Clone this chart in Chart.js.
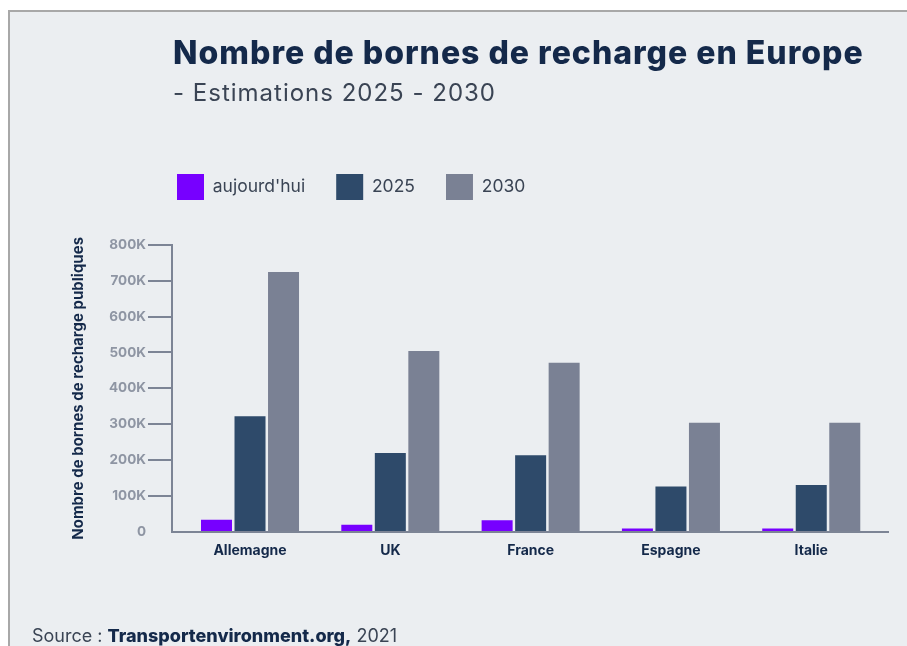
<!DOCTYPE html>
<html><head><meta charset="utf-8">
<script src="https://cdn.jsdelivr.net/npm/chart.js@4.4.0/dist/chart.umd.min.js"></script>
<style>
html,body{margin:0;padding:0;background:#fff;width:907px;height:646px;overflow:hidden;}
#frame{position:absolute;left:8px;top:10px;width:905px;height:640px;background:#ebeef1;border-top:2px solid #a8a8a8;border-left:2px solid #a8a8a8;}
#wrap{position:absolute;left:0;top:0;width:907px;height:646px;}
.t{position:absolute;white-space:nowrap;font-family:Inter,"Noto Sans",sans-serif;}
#title{left:173px;top:36.5px;font-size:32px;line-height:32px;font-weight:800;letter-spacing:1px;color:#14294a;}
#sub{left:173px;top:81px;font-size:24px;line-height:24px;font-weight:400;letter-spacing:1px;color:#3a4454;}
#src{left:32px;top:627px;font-size:18px;line-height:18px;color:#3a4454;}
#src b{color:#14294a;font-weight:800;}
</style></head>
<body>
<div id="frame"></div>
<div id="wrap"><canvas id="c" width="907" height="646"></canvas></div>
<div class="t" id="title">Nombre de bornes de recharge en Europe</div>
<div class="t" id="sub">- Estimations 2025 - 2030</div>
<div class="t" id="src">Source : <b>Transportenvironment.org,</b> 2021</div>
<script>
// ---- data ----
const categories = ["Allemagne", "UK", "France", "Espagne", "Italie"];
const seriesNames = ["aujourd'hui", "2025", "2030"];
const today = [34000, 20000, 33000, 10000, 10000];
const y2025 = [322000, 220000, 214000, 127000, 131000];
const y2030 = [724000, 504000, 471000, 304000, 304000];
const yTickValues = [0, 100000, 200000, 300000, 400000, 500000, 600000, 700000, 800000];
const yAxisTitle = "Nombre de bornes de recharge publiques";

// ---- style / layout constants ----
const COLORS = ["#7700ff", "#2e4a6a", "#7a8194"];
const AXIS_COLOR = "#7c8495";
const FONT = "Inter, 'Noto Sans', sans-serif";
const PAD_L = 69, PAD_T = 177.7, PAD_R = 19, PAD_B = 77.2;
const AXIS_X = 172;
const LEG_PAD = 31;
const LEG_BOX_X = 177, LEG_BOX_Y = 174;
const X_START = -0.556, X_RANGE = 5.103;

const legendShift = {
  id: 'legendShift',
  afterLayout(chart) {
    const lg = chart.legend;
    if (!lg) return;
    const dx = (LEG_BOX_X - LEG_PAD) - lg.left;
    const dy = (LEG_BOX_Y - LEG_PAD) - lg.top;
    lg.left += dx; lg.right += dx; lg.top += dy; lg.bottom += dy;
  }
};

const seriesData = [today, y2025, y2030];
new Chart(document.getElementById('c'), {
  type: 'bar',
  data: {
    labels: categories,
    datasets: seriesNames.map((n, i) => ({
      label: n,
      data: seriesData[i],
      backgroundColor: COLORS[i],
      borderWidth: 0,
      categoryPercentage: 0.7166,
      barPercentage: 0.925
    }))
  },
  options: {
    responsive: false,
    animation: false,
    devicePixelRatio: 1,
    layout: { padding: { left: PAD_L, top: PAD_T, right: PAD_R, bottom: PAD_B } },
    plugins: {
      title: { display: false },
      tooltip: { enabled: false },
      legend: {
        position: 'top',
        align: 'start',
        labels: {
          boxWidth: 27, boxHeight: 26, padding: LEG_PAD,
          color: '#3a4454',
          font: { family: FONT, size: 17.5, weight: '400' }
        }
      }
    },
    scales: {
      x: {
        afterBuildTicks(s) { s._startValue = X_START; s._valueRange = X_RANGE; },
        grid: { display: false, drawTicks: false },
        border: { display: true, color: AXIS_COLOR, width: 2 },
        ticks: { padding: 10, color: '#14294a', font: { family: FONT, size: 14, weight: 'bold' } }
      },
      y: {
        min: 0, max: 800000,
        afterFit(s) { s.width = AXIS_X - PAD_L; },
        afterBuildTicks(s) { s.ticks = yTickValues.map(v => ({ value: v })); },
        ticks: {
          padding: 2, color: '#8e95a3',
          font: { family: FONT, size: 13.5, weight: 'bold' },
          callback: v => v === 0 ? '0' : (v / 1000) + 'K'
        },
        grid: {
          display: true, drawOnChartArea: false, drawTicks: true, tickLength: 24, lineWidth: 2,
          color: ctx => (ctx.tick && ctx.tick.value === 0) ? 'rgba(0,0,0,0)' : AXIS_COLOR
        },
        border: { display: true, color: AXIS_COLOR, width: 2 },
        title: {
          display: true, text: yAxisTitle, color: '#14294a', padding: 0,
          font: { family: FONT, size: 15, weight: 'bold' }
        }
      }
    }
  },
  plugins: [legendShift]
});
</script>
</body></html>
